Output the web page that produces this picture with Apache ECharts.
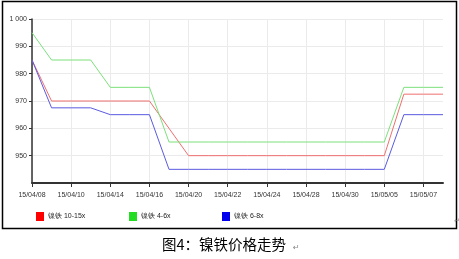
<!DOCTYPE html>
<html><head><meta charset="utf-8">
<script src="https://cdn.jsdelivr.net/npm/echarts@6/dist/echarts.min.js"></script>
<style>html,body{margin:0;padding:0;background:#fff}#c{width:459px;height:259px}</style>
</head><body><div id="c"></div>
<script>
const categories = ['15/04/08','15/04/09','15/04/10','15/04/13','15/04/14','15/04/15','15/04/16','15/04/17','15/04/20','15/04/21','15/04/22','15/04/23','15/04/24','15/04/27','15/04/28','15/04/29','15/04/30','15/05/04','15/05/05','15/05/06','15/05/07','15/05/08'];
const seriesNames = ['镍铁 10-15x','镍铁 4-6x','镍铁 6-8x'];
const red = [985,970,970,970,970,970,970,960,950,950,950,950,950,950,950,950,950,950,950,972.5,972.5,972.5];
const green = [995,985,985,985,975,975,975,955,955,955,955,955,955,955,955,955,955,955,955,975,975,975];
const blue = [985,967.5,967.5,967.5,965,965,965,945,945,945,945,945,945,945,945,945,945,945,945,965,965,965];
const colors = ['#ef6f6f','#7be07b','#5a5ae0'];
const legendColors = ['#ff0000','#22dd22','#0000ee'];
const caption = '图4：镍铁价格走势';

const chart = echarts.init(document.getElementById('c'));
const lbl = {fontSize:7, color:'#333', fontFamily:'Liberation Sans'};
const legendLeft = [31,124,217];
chart.setOption({
  animation:false,
  color: colors,
  grid:{left:32, right:16, top:19, bottom:76},
  legend: seriesNames.map((n,i)=>({
    data:[{name:n, itemStyle:{color:legendColors[i]}}],
    left:legendLeft[i], top:207, itemWidth:8, itemHeight:9, itemGap:4,
    icon:'rect', textStyle:{fontSize:7, color:'#222', fontFamily:'Liberation Sans', padding:[0,0,0,-1]}
  })),
  xAxis:{type:'category', data:categories, boundaryGap:false,
    axisLine:{lineStyle:{color:'#333', width:2}},
    axisTick:{interval:1, length:4, lineStyle:{color:'#333'}},
    axisLabel:Object.assign({interval:1, margin:9}, lbl),
    splitLine:{show:true, interval:1, lineStyle:{color:'#ebebeb', width:1}}
  },
  yAxis:{type:'value', min:940, max:1000, interval:10,
    axisLine:{show:true, lineStyle:{color:'#333', width:1.5}},
    axisTick:{show:true, length:3, lineStyle:{color:'#333'}},
    axisLabel:Object.assign({showMinLabel:false, margin:5, formatter:v=> v===1000 ? '1 000' : String(v)}, lbl),
    splitLine:{lineStyle:{color:'#ebebeb', width:1}}
  },
  series:[
    {name:seriesNames[0], type:'line', data:red, symbol:'none', lineStyle:{width:1}},
    {name:seriesNames[1], type:'line', data:green, symbol:'none', lineStyle:{width:1}},
    {name:seriesNames[2], type:'line', data:blue, symbol:'none', lineStyle:{width:1}}
  ],
  graphic:[
    {type:'rect', shape:{x:2.5, y:1.5, width:454, height:227}, style:{fill:null, stroke:'#000', lineWidth:1.5}, silent:true},
    {type:'text', left:162, top:237, style:{text:caption, fontSize:14.5, fill:'#000', fontFamily:'Noto Sans CJK SC'}},
    {type:'text', left:293, top:244, style:{text:'↵', fontSize:8, fill:'#888', fontFamily:'DejaVu Sans'}},
    {type:'text', left:454, top:218, style:{text:'↵', fontSize:7, fill:'#888', fontFamily:'DejaVu Sans'}}
  ]
});
</script></body></html>
